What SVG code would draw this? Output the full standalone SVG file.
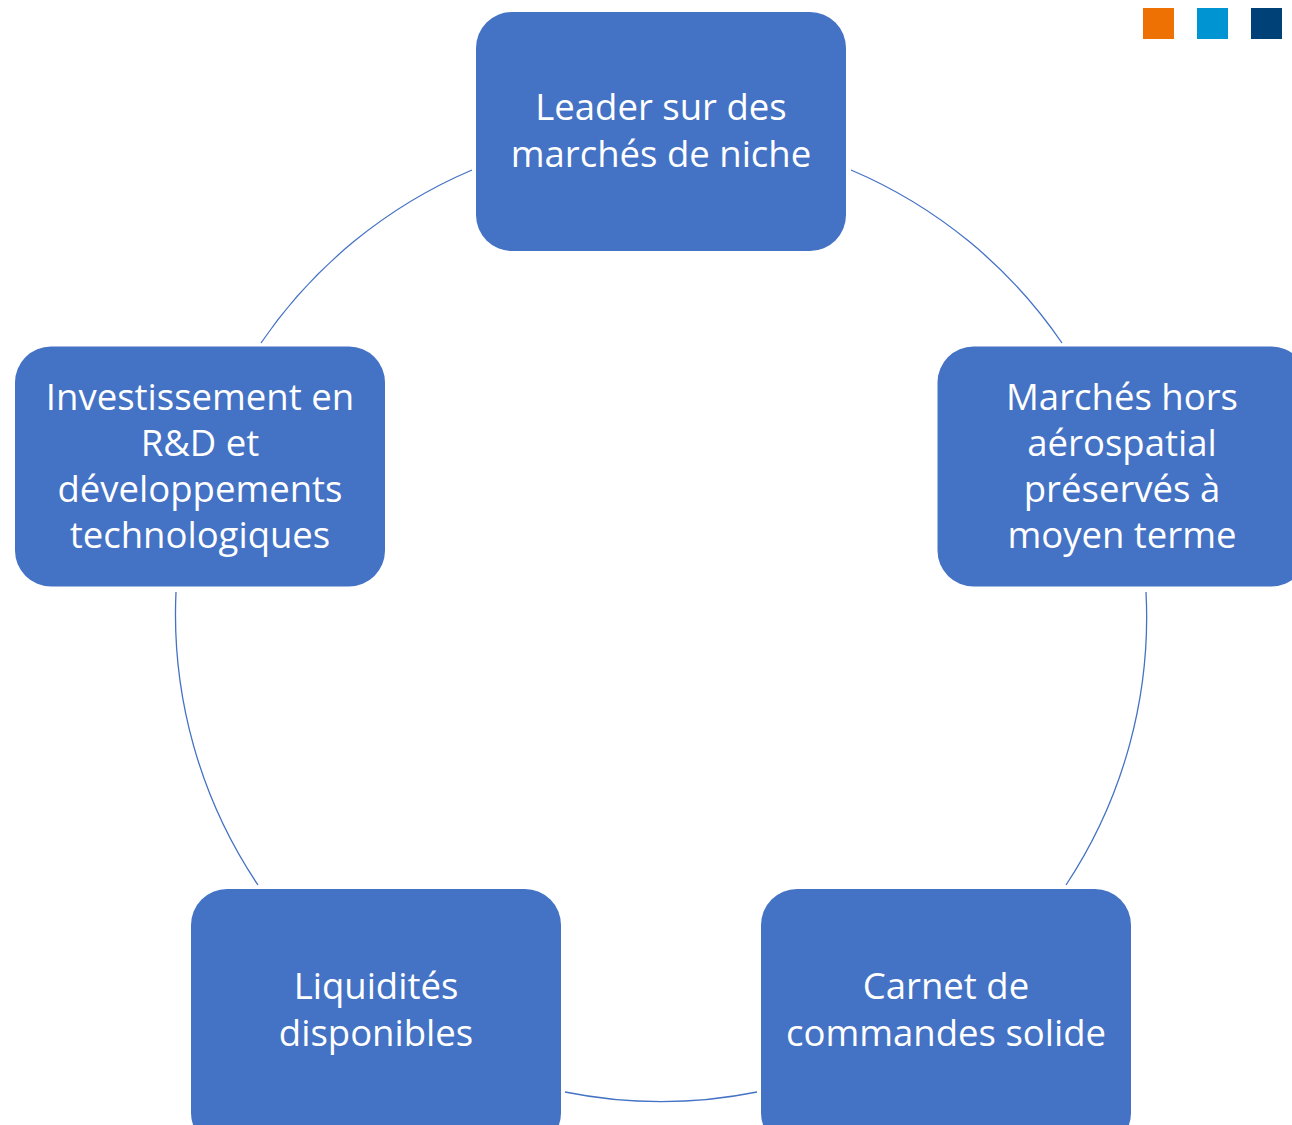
<svg xmlns="http://www.w3.org/2000/svg" width="1292" height="1125" viewBox="0 0 1292 1125">
<style>
.box{fill:#4472C4;}
.lbl{font-family:"Open Sans","Liberation Sans",sans-serif;font-size:36.5px;fill:#FFFFFF;text-anchor:middle;}
.arc{fill:none;stroke:#4472C4;stroke-width:1.3;}
</style>
<rect width="1292" height="1125" fill="#FFFFFF"/>
<g id="legend">
<rect x="1143" y="8" width="31" height="31" fill="#EE7203"/>
<rect x="1197" y="8" width="31" height="31" fill="#0094D2"/>
<rect x="1251" y="8" width="31" height="31" fill="#004178"/>
</g>
<g id="connectors">
<path class="arc" d="M472,170 A485,485 0 0 0 261,343"/>
<path class="arc" d="M851,170 A485,485 0 0 1 1062,343"/>
<path class="arc" d="M1146,592 A485,485 0 0 1 1066,885"/>
<path class="arc" d="M757,1092 A485,485 0 0 1 565,1092"/>
<path class="arc" d="M258,885 A485,485 0 0 1 176,592"/>
</g>
<g id="node-leader">
<rect class="box" x="476" y="12" width="370" height="239" rx="36"/>
<text class="lbl" x="661" y="120">Leader sur des</text>
<text class="lbl" x="661" y="167">marchés de niche</text>
</g>
<g id="node-marches">
<rect class="box" x="937.5" y="346.5" width="370" height="240" rx="36"/>
<text class="lbl" x="1122" y="410">Marchés hors</text>
<text class="lbl" x="1122" y="456">aérospatial</text>
<text class="lbl" x="1122" y="502">préservés à</text>
<text class="lbl" x="1122" y="548">moyen terme</text>
</g>
<g id="node-carnet">
<rect class="box" x="761" y="889" width="370" height="260" rx="36"/>
<text class="lbl" x="946" y="999">Carnet de</text>
<text class="lbl" x="946" y="1046">commandes solide</text>
</g>
<g id="node-liquidites">
<rect class="box" x="191" y="889" width="370" height="260" rx="36"/>
<text class="lbl" x="376" y="999">Liquidités</text>
<text class="lbl" x="376" y="1046">disponibles</text>
</g>
<g id="node-rd">
<rect class="box" x="15" y="346.5" width="370" height="240" rx="36"/>
<text class="lbl" x="200" y="410">Investissement en</text>
<text class="lbl" x="200" y="456">R&amp;D et</text>
<text class="lbl" x="200" y="502">développements</text>
<text class="lbl" x="200" y="548">technologiques</text>
</g>
</svg>
